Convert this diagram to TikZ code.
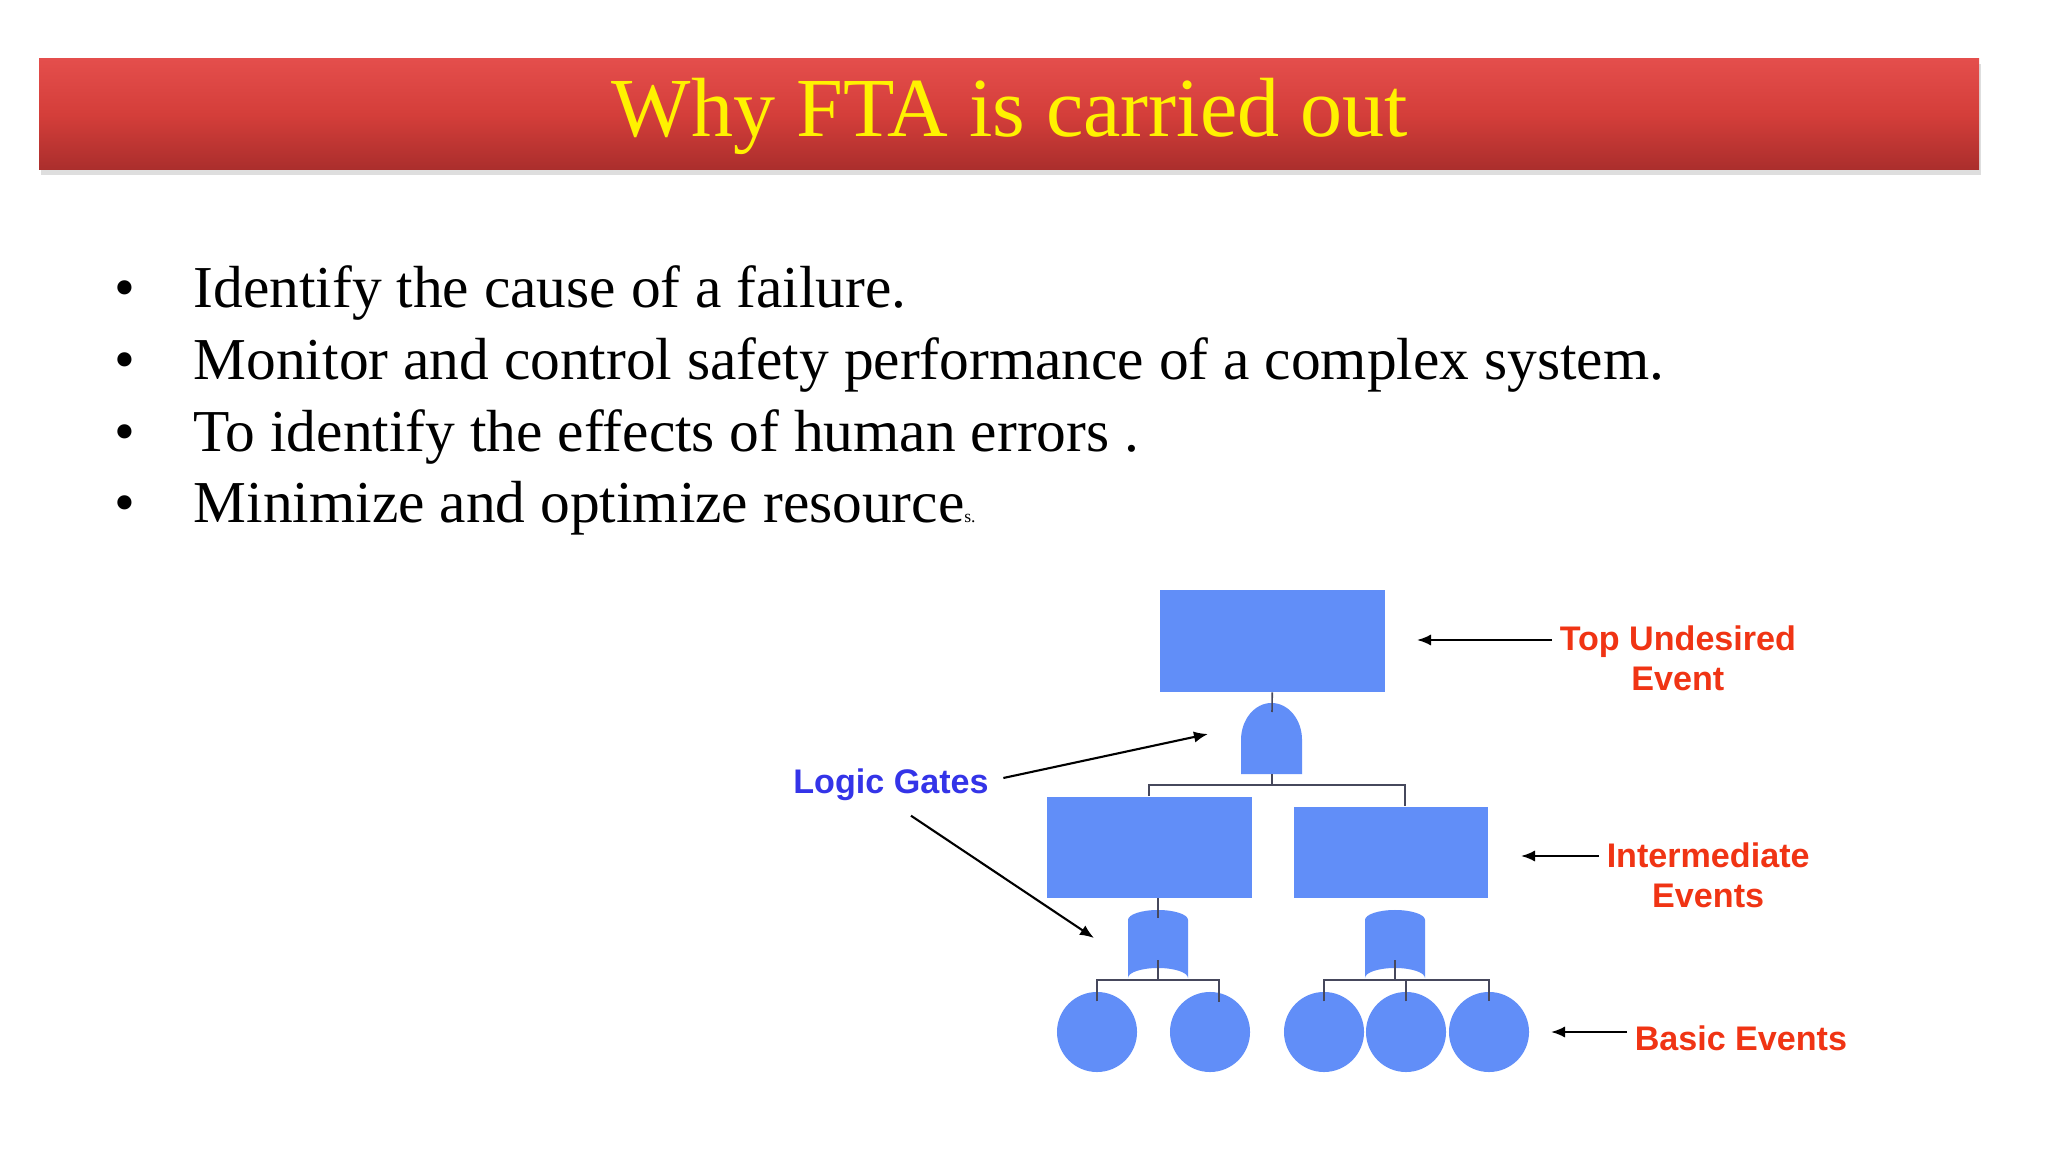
\documentclass[tikz,border=0pt]{standalone}
\usepackage{fontspec}
\setmainfont{Liberation Serif}
\setsansfont{Liberation Sans}
\usetikzlibrary{arrows.meta,calc}
\definecolor{bartop}{RGB}{228,78,76}
\definecolor{barmid}{RGB}{212,62,58}
\definecolor{barbot}{RGB}{170,46,44}
\definecolor{ftblue}{RGB}{97,142,248}
\definecolor{lblred}{RGB}{240,52,20}
\definecolor{lblblue}{RGB}{52,52,232}
\definecolor{treeline}{RGB}{70,72,92}
\tikzset{
  event/.style={fill=ftblue, inner sep=0pt, anchor=north west},
  basic/.style={circle, fill=ftblue, inner sep=0pt, minimum size=0.8cm},
  tree/.style={draw=treeline, line width=0.45pt},
  pointer/.style={draw=black, line width=0.6pt, -{Latex[length=4pt,width=3.2pt]}},
  lbl/.style={font=\sffamily\bfseries\fontsize{9.7}{11.4}\selectfont, text=lblred, inner sep=2pt, align=center},
  bullet/.style={anchor=base west, inner sep=0pt, font=\fontsize{16.9}{20}\selectfont}
}
\begin{document}
\begin{tikzpicture}[x=0.01cm, y=-0.01cm]
    \useasboundingbox[fill=white] (0,0) rectangle (2048,1152);
    % Title bar
    \fill[black!25, opacity=0.5] (41,64) rectangle (1981,175);
    \shade[top color=bartop, bottom color=barbot, middle color=barmid] (39,59) rectangle (1979,170);
    \node[anchor=base, inner sep=0pt, text=yellow, font=\fontsize{23.9}{28}\selectfont] (title) at (1010,137) {Why FTA is carried out};
    % Bullet list
    \node[anchor=base, inner sep=0pt, font=\fontsize{16.9}{20}\selectfont] (d1) at (125,308) {•};
    \node[anchor=base, inner sep=0pt, font=\fontsize{16.9}{20}\selectfont] (d2) at (125,380) {•};
    \node[anchor=base, inner sep=0pt, font=\fontsize{16.9}{20}\selectfont] (d3) at (125,452) {•};
    \node[anchor=base, inner sep=0pt, font=\fontsize{16.9}{20}\selectfont] (d4) at (125,523) {•};
    \node[bullet] (l1) at (193,308) {Identify the cause of a failure.};
    \node[bullet] (l2) at (193,380) {Monitor and control safety performance of a complex system.};
    \node[bullet] (l3) at (193,452) {To identify the effects of human errors .};
    \node[bullet] (l4) at (193,523) {Minimize and optimize resource{\fontsize{5}{6}\selectfont s.}};
    % Events
    \node[event, minimum width=2.25cm, minimum height=1.02cm] (top) at (1159,589) {};
    \node[event, minimum width=2.05cm, minimum height=1.01cm] (int1) at (1046,796) {};
    \node[event, minimum width=1.94cm, minimum height=0.91cm] (int2) at (1293,806) {};
    \node[basic] (b1) at (1097,1032) {};
    \node[basic] (b2) at (1210,1032) {};
    \node[basic] (b3) at (1324,1032) {};
    \node[basic] (b4) at (1406,1032) {};
    \node[basic] (b5) at (1489,1032) {};
    % Gates
    \fill[ftblue] (1241,774) -- (1241,740) arc[start angle=180, end angle=0, x radius=0.305cm, y radius=0.37cm] -- (1302,774) -- cycle;
    \fill[ftblue] (1128,978) -- (1128,920) arc[start angle=180, end angle=0, x radius=0.30cm, y radius=0.10cm] -- (1188,978) arc[start angle=0, end angle=180, x radius=0.30cm, y radius=0.10cm] -- cycle;
    \fill[ftblue] (1365,978) -- (1365,920) arc[start angle=180, end angle=0, x radius=0.30cm, y radius=0.10cm] -- (1425,978) arc[start angle=0, end angle=180, x radius=0.30cm, y radius=0.10cm] -- cycle;
    \coordinate (g1in) at (1272,712);
    \coordinate (g1out) at (1272,774);
    \coordinate (g1bar) at (1272,785);
    \coordinate (i2in) at (1405,806);
    \coordinate (g2in) at (1158,918);
    \coordinate (g2out) at (1158,960);
    \coordinate (g2bar) at (1158,980);
    \coordinate (g3out) at (1395,960);
    \coordinate (g3bar) at (1395,980);
    \coordinate (b2in) at (1219,1002);
    % Tree lines
    \draw[tree] (top.south) -- (g1in);
    \draw[tree] (g1out) -- (g1bar);
    \draw[tree] (int1.north) |- (g1bar) -| (i2in);
    \draw[tree] (int1.south -| g2in) -- (g2in);
    \draw[tree] (g2out) -- (g2bar);
    \draw[tree] ($(b1.north)+(0,10)$) |- (g2bar) -| (b2in);
    \draw[tree] (g3out) -- (g3bar);
    \draw[tree] ($(b3.north)+(0,10)$) |- (g3bar) -| ($(b5.north)+(0,10)$);
    \draw[tree] ($(b4.north)+(0,10)$) -- (b4.north |- g3bar);
    % Labels
    \node[lbl, anchor=north west] (lbltop) at (1552,618) {Top Undesired\\Event};
    \node[lbl, anchor=north west] (lblint) at (1599,835) {Intermediate\\Events};
    \node[lbl, anchor=west] (lblbasic) at (1627,1038) {Basic Events};
    \node[lbl, text=lblblue] (lblgate) at (891,785) {Logic Gates};
    \coordinate (ptop) at (1417,640);
    \coordinate (pint) at (1521,856);
    \coordinate (pbasic) at (1551,1032);
    \coordinate (pg1) at (1208,734);
    \coordinate (pg2) at (1094,938);
    \draw[pointer] ($(lblgate.east)+(7,-7)$) -- (pg1);
    \draw[pointer] ($(lblgate.south)+(20,7)$) -- (pg2);
    \draw[pointer] (lbltop.west |- ptop) -- (ptop);
    \draw[pointer] (lblint.west |- pint) -- (pint);
    \draw[pointer] (lblbasic.west |- pbasic) -- (pbasic);
  \end{tikzpicture}
\end{document}
